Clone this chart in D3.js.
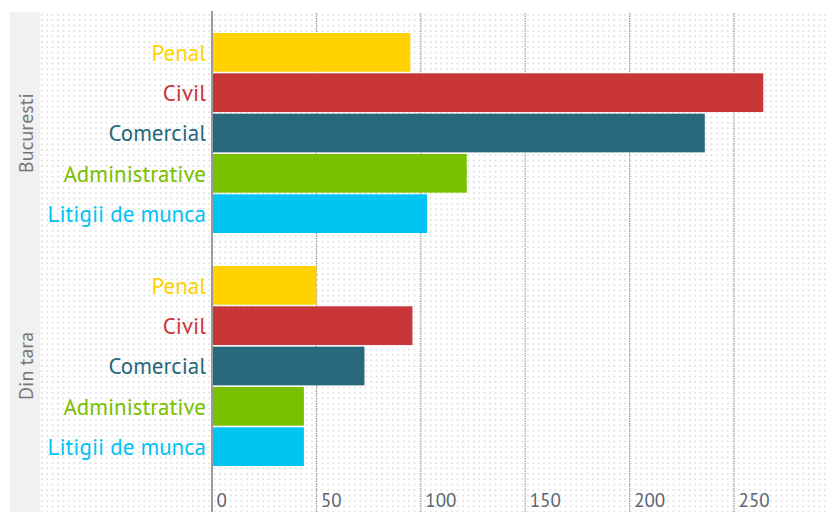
<!DOCTYPE html>
<html>
<head>
<meta charset="utf-8">
<script src="https://cdn.jsdelivr.net/npm/d3@7"></script>
<style>
  html, body { margin: 0; padding: 0; background: #fff; }
  svg { display: block; }
</style>
</head>
<body>
<svg id="chart" width="828" height="512"></svg>
<script>
const groups = ["Bucuresti", "Din tara"];
const categories = ["Penal", "Civil", "Comercial", "Administrative", "Litigii de munca"];
const valuesBucuresti = [95, 264, 236, 122, 103];
const valuesDinTara = [50, 96, 73, 44, 44];
const tickValues = [0, 50, 100, 150, 200, 250];
const colors = ["#ffd200", "#c93638", "#27687a", "#78c000", "#00c4f2"];

const seriesByGroup = { "Bucuresti": valuesBucuresti, "Din tara": valuesDinTara };
const data = [];
groups.forEach(g => categories.forEach((c, i) => data.push({ group: g, cat: c, value: seriesByGroup[g][i], color: colors[i] })));

const W = 828, H = 512;
const svg = d3.select("#chart");
const font = '"PT Sans", "Open Sans", sans-serif';

const x = d3.scaleLinear().domain([0, 295]).range([212, 828]);
const yGroup = d3.scaleBand().domain(groups).range([33, 466]).paddingInner(33 / 233).paddingOuter(0);
const yCat = d3.scaleBand().domain(categories).range([0, yGroup.bandwidth()]).paddingInner(0.04).paddingOuter(0);

// dotted pattern
const defs = svg.append("defs");
const pat = defs.append("pattern").attr("id", "dots").attr("patternUnits", "userSpaceOnUse")
  .attr("width", 5.4).attr("height", 5.4).attr("x", 40).attr("y", 13);
pat.append("rect").attr("x", 1.2).attr("y", 1.2).attr("width", 1.3).attr("height", 1.3).attr("fill", "#c6c6c6");

// group label band
svg.append("rect").attr("x", 10).attr("y", 12).attr("width", 30).attr("height", H - 12).attr("fill", "#f1f1f1");
svg.append("rect").attr("x", 40).attr("y", 13).attr("width", W - 40).attr("height", H - 13).attr("fill", "url(#dots)");

// grid lines
svg.append("g").selectAll("line").data(tickValues.filter(t => t > 0)).join("line")
  .attr("x1", d => x(d)).attr("x2", d => x(d)).attr("y1", 13).attr("y2", H)
  .attr("stroke", "#9c9c9c").attr("stroke-width", 1.2).attr("stroke-dasharray", "1.5,1");

// bars
const gG = svg.append("g").selectAll("g").data(groups).join("g")
  .attr("transform", d => `translate(0,${yGroup(d)})`);
gG.selectAll("rect").data(g => data.filter(d => d.group === g)).join("rect")
  .attr("x", x(0)).attr("y", d => yCat(d.cat))
  .attr("width", d => x(d.value) - x(0)).attr("height", yCat.bandwidth())
  .attr("fill", d => d.color);

// category labels
gG.selectAll("text").data(g => data.filter(d => d.group === g)).join("text")
  .attr("x", 206).attr("y", d => yCat(d.cat) + yCat.bandwidth() / 2)
  .attr("dy", "0.36em").attr("text-anchor", "end")
  .attr("font-family", font).attr("font-size", 23)
  .attr("fill", d => d.color).text(d => d.cat);

// group labels
svg.append("g").selectAll("text").data(groups).join("text")
  .attr("transform", d => `translate(33,${yGroup(d) + yGroup.bandwidth() / 2}) rotate(-90)`)
  .attr("text-anchor", "middle").attr("font-family", font).attr("font-size", 20)
  .attr("fill", "#777").text(d => d);

// axis line
svg.append("line").attr("x1", x(0)).attr("x2", x(0)).attr("y1", 11).attr("y2", H)
  .attr("stroke", "#9a9a9a").attr("stroke-width", 2);

// x axis labels
const axis = d3.axisBottom(x).tickValues(tickValues).tickSize(0).tickPadding(0);
const ax = svg.append("g").attr("transform", `translate(0,507)`).call(axis);
ax.select(".domain").remove();
ax.selectAll("text").attr("text-anchor", "start").attr("dx", 4).attr("dy", "0")
  .attr("font-family", font).attr("font-size", 19).attr("fill", "#5a6570");
</script>
</body>
</html>
